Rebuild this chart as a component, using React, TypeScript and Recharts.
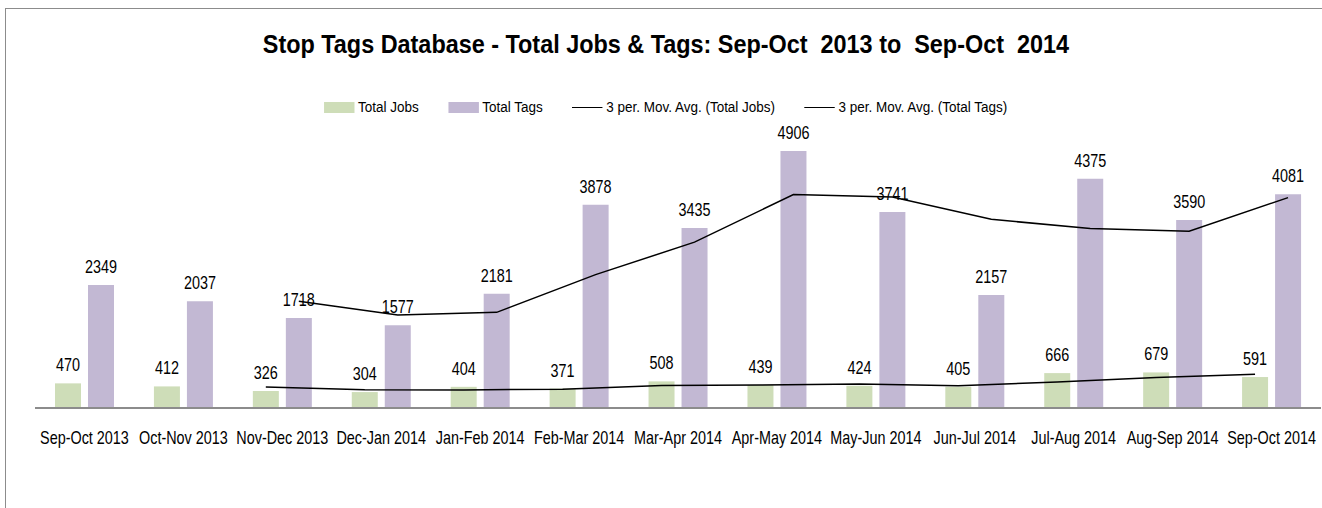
import React from 'react';
import {
  ComposedChart, Bar, Line, XAxis, YAxis, LabelList,
} from 'recharts';

const categories = [
  'Sep-Oct 2013', 'Oct-Nov 2013', 'Nov-Dec 2013', 'Dec-Jan 2014', 'Jan-Feb 2014',
  'Feb-Mar 2014', 'Mar-Apr 2014', 'Apr-May 2014', 'May-Jun 2014', 'Jun-Jul 2014',
  'Jul-Aug 2014', 'Aug-Sep 2014', 'Sep-Oct 2014',
];
const totalJobs = [470, 412, 326, 304, 404, 371, 508, 439, 424, 405, 666, 679, 591];
const totalTags = [2349, 2037, 1718, 1577, 2181, 3878, 3435, 4906, 3741, 2157, 4375, 3590, 4081];
// 3 period moving averages as drawn (start at 3rd period)
const jobsAvg = [null, null, 403, 347, 345, 360, 428, 439, 457, 423, 498, 583, 645];
const tagsAvg = [null, null, 2035, 1777, 1825, 2545, 3165, 4073, 4027, 3601, 3424, 3374, 4015];

const GREEN = '#CEDDB8';
const PURPLE = '#C2B8D3';
const FONT = "'Liberation Sans', Arial, sans-serif";
const SQUEEZE = 0.8; // original chart text is horizontally compressed
const TEXT_SIZE = 18;

const W = 1322;
const H = 508;
const M = { top: 146, right: 1, bottom: 70, left: 35 };
const BAR = 26;
const GAP = 7;
// trendlines sit on the centre of their own bar, not the category centre
const band = (W - M.left - M.right) / categories.length;
const shift = (BAR + GAP) / 2 / band;

const data = categories.map((name, i) => ({
  name,
  idx: i,
  jobs: totalJobs[i],
  tags: totalTags[i],
  jobsAvg: jobsAvg[i],
  tagsAvg: tagsAvg[i],
}));

const legendItems = [
  { label: 'Total Jobs', kind: 'box', color: GREEN },
  { label: 'Total Tags', kind: 'box', color: PURPLE },
  { label: '3 per. Mov. Avg. (Total Jobs)', kind: 'line', color: '#000' },
  { label: '3 per. Mov. Avg. (Total Tags)', kind: 'line', color: '#000' },
];

function NarrowTick(props: any) {
  const { x, y, payload } = props;
  return (
    <g transform={`translate(${x},${y})`}>
      <text transform={`scale(${SQUEEZE},1)`} textAnchor="middle" dy="0.68em"
        fill="#000" fontSize={TEXT_SIZE} fontFamily={FONT}>
        {payload.value}
      </text>
    </g>
  );
}

function NarrowLabel(props: any) {
  const { x, y, width, value } = props;
  if (value == null) return null;
  return (
    <g transform={`translate(${x + width / 2},${y - 12})`}>
      <text transform={`scale(${SQUEEZE},1)`} textAnchor="middle"
        fill="#000" fontSize={TEXT_SIZE} fontFamily={FONT}>
        {value}
      </text>
    </g>
  );
}

function ChartLegend() {
  return (
    <div style={{
      position: 'absolute', left: 0, top: 98, width: W, display: 'flex', justifyContent: 'center',
    }}>
      <div style={{
        display: 'flex', gap: 34, fontFamily: FONT, fontSize: 15.5, color: '#000',
        transform: 'scaleX(0.87)', transformOrigin: 'center', whiteSpace: 'nowrap', marginLeft: 10,
      }}>
        {legendItems.map(it => (
          <div key={it.label} style={{ display: 'flex', alignItems: 'center' }}>
            {it.kind === 'box'
              ? <span style={{ display: 'inline-block', width: 35, height: 11, background: it.color, marginRight: 4 }} />
              : <span style={{ display: 'inline-block', width: 35, height: 0, borderTop: `1.5px solid ${it.color}`, marginRight: 4 }} />}
            <span>{it.label}</span>
          </div>
        ))}
      </div>
    </div>
  );
}

export default function App() {
  return (
    <div style={{ position: 'absolute', left: 0, top: 0, width: W, height: H, background: '#fff', overflow: 'hidden' }}>
      <div style={{
        position: 'absolute', left: 5, top: 8, width: W - 5, height: H - 8,
        borderTop: '1px solid #8c8c8c', borderLeft: '1px solid #8c8c8c',
      }} />
      <div style={{ position: 'absolute', left: 0, top: 29, width: W, display: 'flex', justifyContent: 'center' }}>
        <div style={{
          fontFamily: FONT, fontWeight: 'bold', fontSize: 26, whiteSpace: 'pre', color: '#000',
          transform: 'scaleX(0.9)', transformOrigin: 'center', marginLeft: 10,
        }}>
          {'Stop Tags Database - Total Jobs & Tags: Sep-Oct  2013 to  Sep-Oct  2014'}
        </div>
      </div>
      <ChartLegend />
      <ComposedChart width={W} height={H} data={data} margin={M} barSize={BAR} barGap={GAP}
        style={{ position: 'absolute', left: 0, top: 0 }}>
        <XAxis dataKey="name" height={30} interval={0} tickLine={false} tickSize={6} tickMargin={18}
          axisLine={{ stroke: '#8c8c8c', strokeWidth: 2 }} tick={<NarrowTick />} />
        <XAxis xAxisId="jobsX" type="number" dataKey="idx" hide allowDataOverflow
          domain={[-0.5 + shift, categories.length - 0.5 + shift]} />
        <XAxis xAxisId="tagsX" type="number" dataKey="idx" hide allowDataOverflow
          domain={[-0.5 - shift, categories.length - 0.5 - shift]} />
        <YAxis hide domain={[0, 5000]} />
        <Bar dataKey="jobs" fill={GREEN} isAnimationActive={false}>
          <LabelList dataKey="jobs" content={<NarrowLabel />} />
        </Bar>
        <Bar dataKey="tags" fill={PURPLE} isAnimationActive={false}>
          <LabelList dataKey="tags" content={<NarrowLabel />} />
        </Bar>
        <Line xAxisId="jobsX" dataKey="jobsAvg" stroke="#000" strokeWidth={1.5} dot={false}
          activeDot={false} isAnimationActive={false} />
        <Line xAxisId="tagsX" dataKey="tagsAvg" stroke="#000" strokeWidth={1.5} dot={false}
          activeDot={false} isAnimationActive={false} />
      </ComposedChart>
    </div>
  );
}
